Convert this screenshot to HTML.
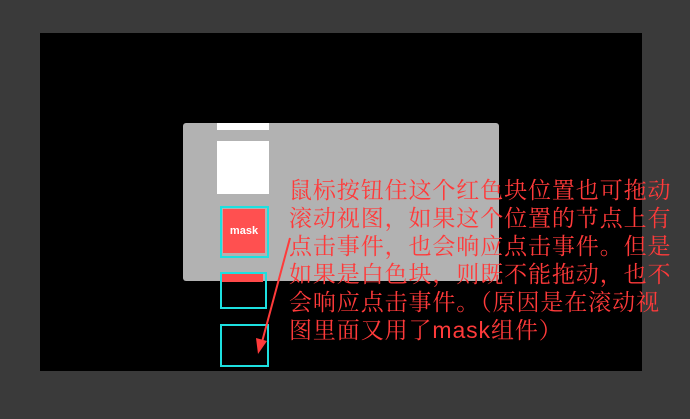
<!DOCTYPE html>
<html><head><meta charset="utf-8"><style>
body{margin:0;width:690px;height:419px;background:#3a3a3a;position:relative;overflow:hidden}
div{position:absolute;box-sizing:border-box}
.t{left:289px;top:176px;width:400px;color:#ff3a3a;font-family:"Liberation Sans","Noto Serif CJK SC",serif;font-size:23px;line-height:28px;letter-spacing:0.9px;white-space:nowrap}
</style></head><body>
<div style="left:40px;top:33px;width:602px;height:338px;background:#000"></div>
<div style="left:183px;top:123px;width:316px;height:158px;background:#b2b2b2;border-radius:3px"></div>
<div style="left:217px;top:123px;width:52px;height:7px;background:#fff"></div>
<div style="left:217px;top:141px;width:52px;height:53px;background:#fff"></div>
<div style="left:220px;top:206px;width:49px;height:52px;border:2px solid #1de0e0"></div>
<div style="left:223px;top:209px;width:42px;height:44px;background:#ff5050;color:#fff;font:bold 11px 'Liberation Sans',sans-serif;display:flex;align-items:center;justify-content:center">mask</div>
<div style="left:222px;top:273px;width:41px;height:9px;background:#ff4a4a"></div>
<div style="left:220px;top:272px;width:47px;height:37px;border:2px solid #1de0e0"></div>
<div style="left:220px;top:324px;width:49px;height:43px;border:2px solid #1de0e0"></div>
<svg style="position:absolute;left:0;top:0" width="690" height="419">
<line x1="290" y1="238" x2="262" y2="342" stroke="#ff3a3a" stroke-width="2"/>
<polygon points="258,354 256,338 267,341" fill="#ff3a3a"/>
</svg>
<div class="t">鼠标按钮住这个红色块位置也可拖动<br>滚动视图，如果这个位置的节点上有<br>点击事件，也会响应点击事件。但是<br>如果是白色块，则既不能拖动，也不<br>会响应点击事件。（原因是在滚动视<br>图里面又用了mask组件）</div>
</body></html>
